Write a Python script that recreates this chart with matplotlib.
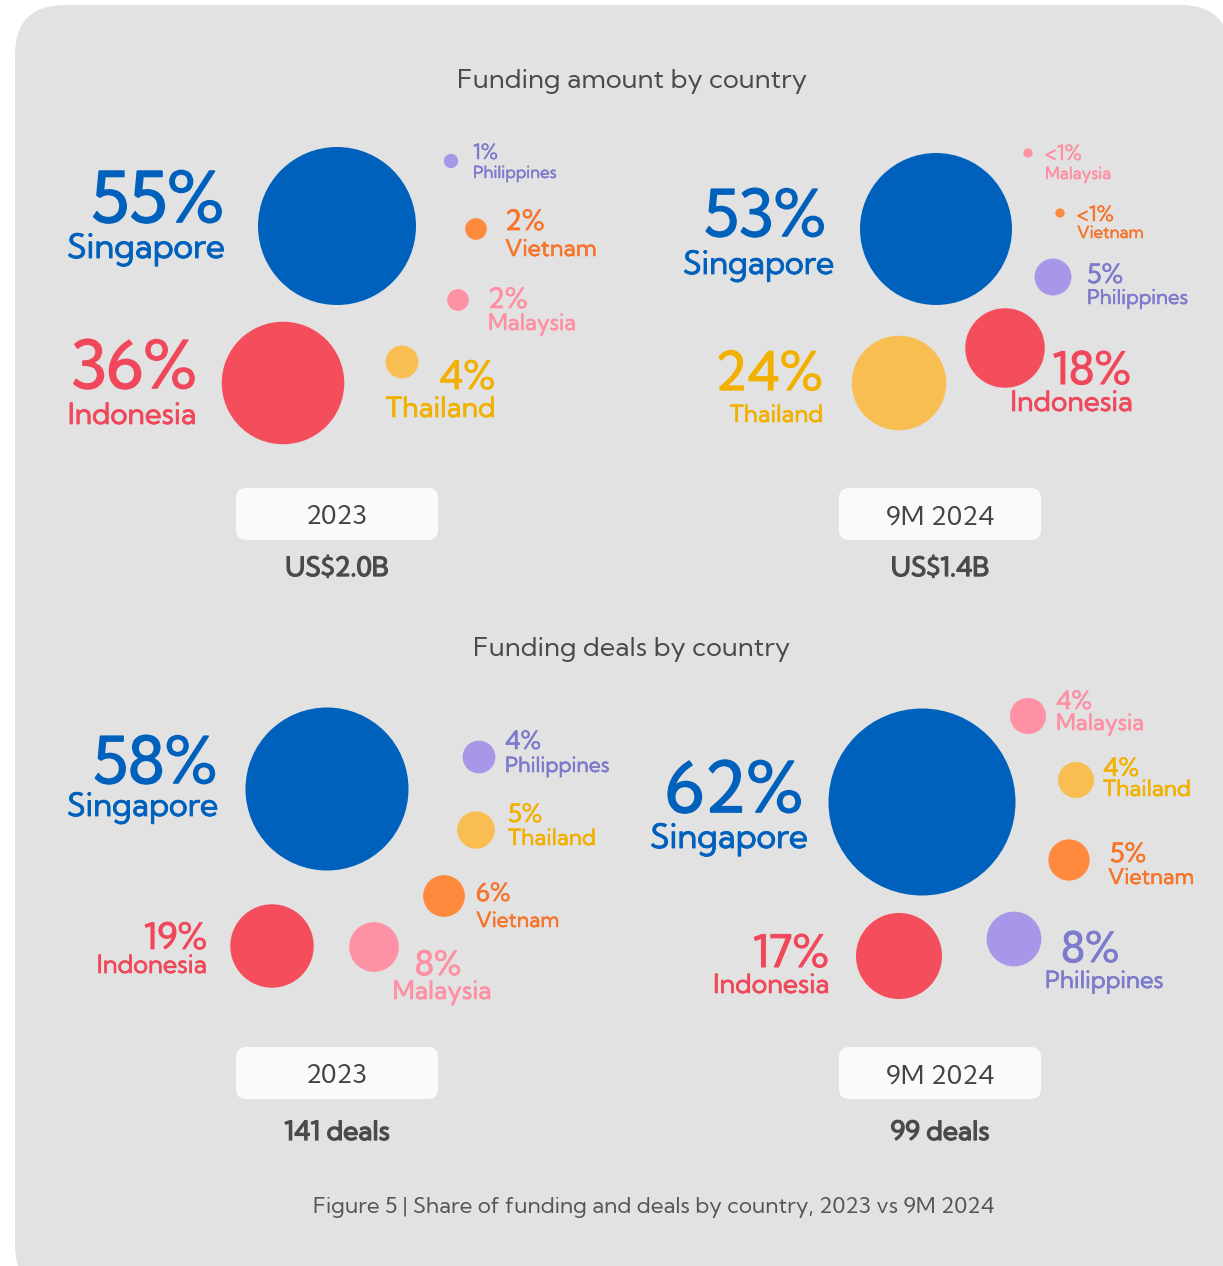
import matplotlib
matplotlib.use("Agg")
import matplotlib.pyplot as plt
import matplotlib.patheffects as pe
from matplotlib.patches import Circle, FancyBboxPatch

plt.rcParams['font.family'] = ['Kumbh Sans', 'DejaVu Sans']

# data
countries = ["Singapore", "Indonesia", "Thailand", "Vietnam", "Malaysia", "Philippines"]
amount_2023 = [55, 36, 4, 2, 2, 1]
amount_9m2024 = [53, 18, 24, 0.5, 0.5, 5]   # values under 1% are shown as "<1%"
deals_2023 = [58, 19, 5, 6, 8, 4]
deals_9m2024 = [62, 17, 4, 5, 4, 8]
periods = ["2023", "9M 2024"]
funding_totals = ["US$2.0B", "US$1.4B"]
deal_totals = ["141 deals", "99 deals"]

circle_colors = ["#0061BD", "#F44E5C", "#F9BE52", "#FF8A3D", "#FF91A4", "#A897E8"]
text_colors = ["#0061BD", "#F0485A", "#F2B000", "#F7742B", "#FF8FA3", "#7D7BCB"]

# layout per bubble: cx, cy, ha, pct_x, pct_y, name_x, name_y, pct_fs, name_fs
layout_amount_2023 = [
    (337, 226, 'right', 224, 222, 225, 258, 50, 24),
    (283, 383, 'right', 197, 388, 197, 424, 47, 21),
    (402, 362, 'right', 495, 389, 496, 417, 28, 20),
    (476, 229, 'left', 505, 230, 505, 256, 20, 16.5),
    (458, 300, 'left', 488, 308, 488, 330, 20, 16),
    (451, 161, 'left', 473, 159, 473, 178, 15, 12),
]
layout_amount_2024 = [
    (936, 229, 'right', 826, 236, 834, 274, 46, 23),
    (1005, 348, 'right', 1131, 384, 1133, 411, 32, 20),
    (899, 383, 'right', 823, 390, 823, 422, 38, 17),
    (1060, 213, 'left', 1077, 221, 1077, 238, 15, 12),
    (1028, 153, 'left', 1045, 160, 1045, 179, 15, 12),
    (1053, 277, 'left', 1087, 283, 1087, 304, 19, 14.5),
]
layout_deals_2023 = [
    (327, 789, 'right', 217, 783, 218, 816, 46, 23),
    (272, 946, 'right', 207, 949, 207, 973, 26, 18),
    (476, 830, 'left', 508, 822, 508, 845, 18, 16),
    (444, 896, 'left', 476, 901, 476, 927, 18, 15),
    (374, 947, 'center', 438, 975, 442, 999, 24, 18),
    (479, 757, 'left', 505, 749, 505, 772, 18, 15),
]
layout_deals_2024 = [
    (922, 802, 'right', 803, 812, 808, 848, 50, 24),
    (899, 956, 'right', 829, 967, 830, 993, 32, 19),
    (1076, 780, 'left', 1103, 776, 1103, 796, 18, 16),
    (1069, 860, 'left', 1110, 862, 1108, 884, 19, 15.5),
    (1028, 716, 'left', 1056, 709, 1056, 730, 18, 16),
    (1014, 939, 'left', 1061, 962, 1045, 988, 30, 17),
]

fig = plt.figure(figsize=(12.23, 12.66), dpi=100)
ax = fig.add_axes([0, 0, 1, 1])
ax.set_xlim(0, 1223)
ax.set_ylim(1266, 0)
ax.axis('off')

# grey rounded panel
ax.add_patch(FancyBboxPatch((15, 5), 1215, 1290, boxstyle="round,pad=0,rounding_size=50",
                            fc="#E2E2E2", ec="none"))


def heavy(color, fs, k=0.025):
    # thin outline in the text colour, makes the regular face look medium
    return [pe.withStroke(linewidth=fs * k, foreground=color)]


def bubbles(values, layout, rmax):
    vmax = max(values)
    for name, v, lay, cc, tc in zip(countries, values, layout, circle_colors, text_colors):
        cx, cy, ha, px, py, nx, ny, pfs, nfs = lay
        r = rmax * (v / vmax) ** 0.6
        ax.add_patch(Circle((cx, cy), r, fc=cc, ec="none"))
        pct = "<1%" if v < 1 else f"{v:g}%"
        ax.text(px, py, pct, ha=ha, va='baseline', fontsize=pfs, color=tc,
                path_effects=heavy(tc, pfs))
        ax.text(nx, ny, name, ha=ha, va='baseline', fontsize=nfs, color=tc,
                path_effects=heavy(tc, nfs))


bubbles(amount_2023, layout_amount_2023, 79)
bubbles(amount_9m2024, layout_amount_2024, 76)
bubbles(deals_2023, layout_deals_2023, 81.5)
bubbles(deals_9m2024, layout_deals_2024, 93.5)

ax.text(632, 88, "Funding amount by country", ha='center', va='baseline', fontsize=19.3, color="#4A4A4A")
ax.text(632, 656, "Funding deals by country", ha='center', va='baseline', fontsize=19.3, color="#4A4A4A")


def period_box(xc, ytop, label, total, total_y):
    ax.add_patch(FancyBboxPatch((xc - 101, ytop), 202, 52, boxstyle="round,pad=0,rounding_size=10",
                                fc="#FAFAFA", ec="none"))
    ax.text(xc, ytop + 36, label, ha='center', va='baseline', fontsize=19, color="#444444")
    ax.text(xc, total_y, total, ha='center', va='baseline', fontsize=19, color="#4A4A4A",
            path_effects=heavy("#4A4A4A", 19, 0.05))


for xc, p, ft, dt in zip([337, 940], periods, funding_totals, deal_totals):
    period_box(xc, 488, p, ft, 576)
    period_box(xc, 1047, p, dt, 1140)

ax.text(654, 1213, "Figure 5 | Share of funding and deals by country, 2023 vs 9M 2024",
        ha='center', va='baseline', fontsize=16, color="#555555")

fig.savefig("out.png", dpi=100, facecolor="white")
